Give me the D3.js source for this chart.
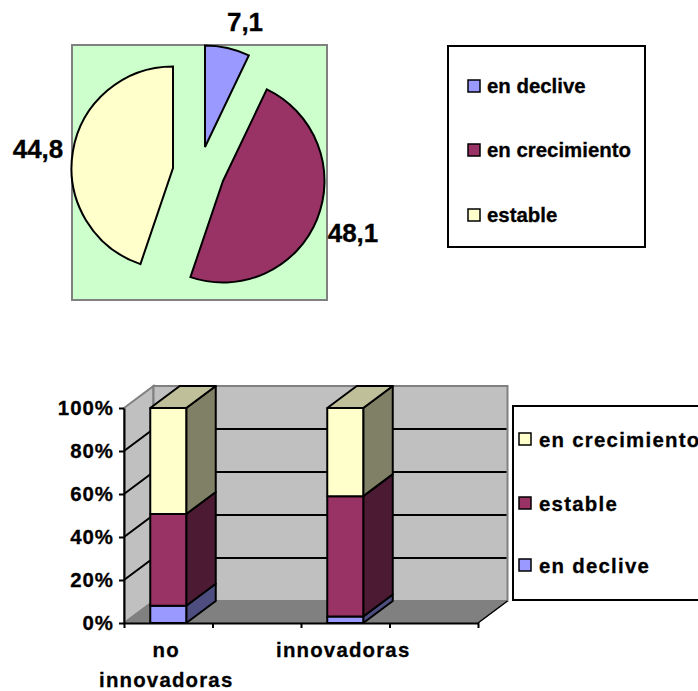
<!DOCTYPE html>
<html>
<head>
<meta charset="utf-8">
<script src="https://cdn.jsdelivr.net/npm/d3@7"></script>
<style>
html,body{margin:0;padding:0;background:#fff;overflow:hidden}
svg{display:block}
text{font-family:"Liberation Sans",Arial,sans-serif;font-weight:bold;fill:#000;stroke:#000;stroke-width:0.3px}
</style>
</head>
<body>
<svg id="c" width="698" height="691"></svg>
<script>
// ---- data ----
const pieNames = ["en declive", "en crecimiento", "estable"];
const pieValues = [7.1, 48.1, 44.8];
const pieLabels = ["7,1", "48,1", "44,8"];
const pieColors = ["#9999FF", "#993366", "#FFFFCC"];

const barCategories = ["no\ninnovadoras", "", "innovadoras", ""];
const barDeclive = [8, null, 3, null];
const barEstable = [42.7, null, 56, null];
const barCrecimiento = [49.3, null, 41, null];
const barSeriesNames = ["en declive", "estable", "en crecimiento"];
const barColors = ["#9999FF", "#993366", "#FFFFCC"];
const yTicks = [0, 20, 40, 60, 80, 100];

// ---- layout ----
const svg = d3.select("#c");
const pieCenters = [[205, 147], [223, 181], [173, 168]];
const pieLabelPos = [[245, 31], [353, 242], [38, 158]];
const R = 101.5;

// ---- pie ----
svg.append("rect").attr("x", 72).attr("y", 45).attr("width", 255).attr("height", 255)
  .attr("fill", "#CCFFCC").attr("stroke", "#808080").attr("stroke-width", 2);
const arcs = d3.pie().sort(null)(pieValues);
const arcGen = d3.arc().innerRadius(0).outerRadius(R);
svg.append("g").selectAll("path").data(arcs).join("path")
  .attr("d", arcGen)
  .attr("transform", (d, i) => `translate(${pieCenters[i]})`)
  .attr("fill", (d, i) => pieColors[i])
  .attr("stroke", "#000").attr("stroke-width", 2).attr("stroke-linejoin", "miter");
svg.append("g").selectAll("text").data(pieLabels).join("text")
  .attr("x", (d, i) => pieLabelPos[i][0]).attr("y", (d, i) => pieLabelPos[i][1])
  .attr("text-anchor", "middle").attr("font-size", 26).text(d => d);

// legend 1
svg.append("rect").attr("x", 448).attr("y", 46).attr("width", 197).attr("height", 201)
  .attr("fill", "#fff").attr("stroke", "#000").attr("stroke-width", 2);
const l1 = svg.append("g").selectAll("g").data(pieNames).join("g")
  .attr("transform", (d, i) => `translate(0,${[86, 150, 215][i]})`);
l1.append("rect").attr("x", 468).attr("y", -6).attr("width", 12).attr("height", 12)
  .attr("fill", (d, i) => pieColors[i]).attr("stroke", "#000").attr("stroke-width", 1.5);
l1.append("text").attr("x", 487).attr("y", 7).attr("font-size", 20.4).text(d => d);

// ---- 3D stacked bars ----
const depthX = 29.5, depthY = -22;
const x = d3.scaleLinear().domain([0, 4]).range([124, 478]);
const y = d3.scaleLinear().domain([0, 100]).range([623, 408]);
const poly = pts => pts.map(p => p.join(",")).join(" ");

// walls and floor
svg.append("polygon").attr("fill", "#C0C0C0").attr("stroke", "#808080").attr("stroke-width", 2)
  .attr("points", poly([[x(0), y(100)], [x(0) + depthX, y(100) + depthY], [x(0) + depthX, y(0) + depthY], [x(0), y(0)]]));
svg.append("polygon").attr("fill", "#C0C0C0").attr("stroke", "#808080").attr("stroke-width", 2)
  .attr("points", poly([[x(0) + depthX, y(100) + depthY], [x(4) + depthX, y(100) + depthY], [x(4) + depthX, y(0) + depthY], [x(0) + depthX, y(0) + depthY]]));
svg.append("polygon").attr("fill", "#808080").attr("stroke", "#808080").attr("stroke-width", 1)
  .attr("points", poly([[x(0), y(0)], [x(4), y(0)], [x(4) + depthX, y(0) + depthY], [x(0) + depthX, y(0) + depthY]]));

// gridlines
const grid = svg.append("g").attr("stroke", "#000").attr("stroke-width", 2).attr("fill", "none");
yTicks.filter(t => t > 0 && t < 100).forEach(t => {
  grid.append("polyline").attr("points", poly([[x(0), y(t)], [x(0) + depthX, y(t) + depthY], [x(4) + depthX - 1, y(t) + depthY]]));
});
grid.append("line").attr("x1", x(4)).attr("y1", y(0)).attr("x2", x(4) + depthX).attr("y2", y(0) + depthY)
  .attr("stroke", "#000").attr("stroke-width", 1.5);

// bars
const shade = (c, k) => { const r = d3.rgb(c); return d3.rgb(r.r * k, r.g * k, r.b * k).formatHex(); };
const series = [barDeclive, barEstable, barCrecimiento];
const barHalf = 18;
barCategories.forEach((cat, i) => {
  if (series[0][i] === null) return;
  const cx = x(i + 0.5), g = svg.append("g").attr("stroke", "#000").attr("stroke-width", 2).attr("stroke-linejoin", "round");
  let base = 0;
  series.forEach((s, k) => {
    const top = base + s[i], x0 = cx - barHalf, x1 = cx + barHalf;
    g.append("polygon").attr("fill", shade(barColors[k], 0.5))
      .attr("points", poly([[x1, y(base)], [x1 + depthX, y(base) + depthY], [x1 + depthX, y(top) + depthY], [x1, y(top)]]));
    g.append("rect").attr("x", x0).attr("y", y(top)).attr("width", x1 - x0).attr("height", y(base) - y(top))
      .attr("fill", barColors[k]);
    if (k === series.length - 1) {
      g.append("polygon").attr("fill", shade(barColors[k], 0.75))
        .attr("points", poly([[x0, y(top)], [x1, y(top)], [x1 + depthX, y(top) + depthY], [x0 + depthX, y(top) + depthY]]));
    }
    base = top;
  });
});

// axes
const yAxis = svg.append("g").attr("transform", `translate(${x(0)},0)`)
  .call(d3.axisLeft(y).tickValues(yTicks).tickFormat(d => d + "%").tickSize(5).tickSizeOuter(0));
yAxis.selectAll("line,path").attr("stroke", "#000").attr("stroke-width", 2);
yAxis.selectAll("text").attr("font-size", 20.4).attr("letter-spacing", 1)
  .attr("font-family", '"Liberation Sans",Arial,sans-serif').attr("font-weight", "bold").attr("x", -10);
const xAxis = svg.append("g").attr("transform", `translate(0,${y(0)})`)
  .call(d3.axisBottom(x).tickValues([0, 1, 2, 3, 4]).tickFormat("").tickSize(5).tickSizeOuter(0));
xAxis.selectAll("line,path").attr("stroke", "#000").attr("stroke-width", 2);

const catG = svg.append("g").attr("font-size", 20.4).attr("letter-spacing", 1.2).attr("text-anchor", "middle");
barCategories.forEach((cat, i) => {
  cat.split("\n").forEach((line, j) => {
    catG.append("text").attr("x", x(i + 0.5) - 2).attr("y", 657 + j * 30).text(line);
  });
});

// legend 2
svg.append("rect").attr("x", 513).attr("y", 406).attr("width", 200).attr("height", 194)
  .attr("fill", "#fff").attr("stroke", "#000").attr("stroke-width", 2);
const legend2Order = [2, 1, 0];
const l2 = svg.append("g").selectAll("g").data(legend2Order).join("g")
  .attr("transform", (d, i) => `translate(0,${[439, 503, 565][i]})`);
l2.append("rect").attr("x", 519).attr("y", -6).attr("width", 12).attr("height", 12)
  .attr("fill", d => barColors[d]).attr("stroke", "#000").attr("stroke-width", 1.5);
l2.append("text").attr("x", 539).attr("y", 8).attr("font-size", 20.4).attr("letter-spacing", 1.25)
  .text(d => barSeriesNames[d]);
</script>
</body>
</html>
